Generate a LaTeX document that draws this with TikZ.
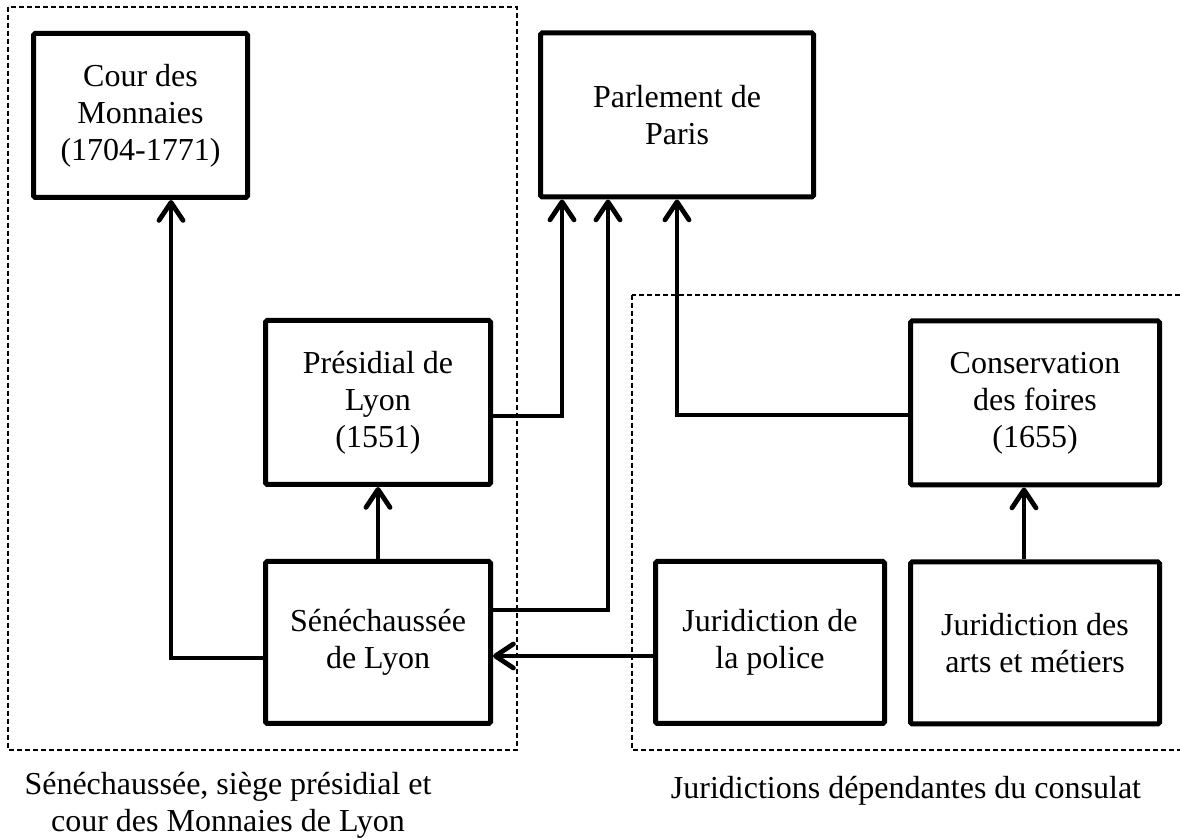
\documentclass[tikz,border=0pt]{standalone}
\usepackage{fontspec}
\setmainfont{Liberation Serif}
\usepackage{tikz}
\usetikzlibrary{arrows.meta,calc}

\tikzset{
    instance/.style={draw, line width=2.5pt, rounded corners=0.8pt, align=center, inner sep=0pt, font=\fontsize{16}{18.5}\selectfont},
    arr/.style={line width=2.4pt, -{Straight Barb[length=9pt,width=12pt,line width=2.4pt,round]}},
    group/.style={dash pattern=on 2.5pt off 1.5pt, line width=0.7pt},
    caption/.style={align=center, font=\fontsize{16}{18.5}\selectfont}
}

\begin{document}
\begin{tikzpicture}[x=0.5pt, y=-0.5pt]
    \useasboundingbox (0,0) rectangle (1180,838);

    % groupes
    \draw[group] (8,7) rectangle (517,750);
    \draw[group] (632,295) rectangle (1195,750);

    \node[instance, minimum width=107pt, minimum height=82pt] at (140.5,115.5) (cour) {Cour des\\Monnaies\\(1704-1771)};
    \node[instance, minimum width=136.5pt, minimum height=82pt] at (677,115) (parlement) {Parlement de\\Paris};
    \node[instance, minimum width=112.5pt, minimum height=82pt] at (378,402.5) (presidial) {Présidial de\\Lyon\\(1551)};
    \node[instance, minimum width=124.5pt, minimum height=82pt] at (1035,403) (conservation) {Conservation\\des foires\\(1655)};
    \node[instance, minimum width=112.5pt, minimum height=81pt] at (378,642.5) (senechaussee) {Sénéchaussée\\de Lyon};
    \node[instance, minimum width=114.5pt, minimum height=81pt] at (770,642.5) (police) {Juridiction de\\la police};
    \node[instance, minimum width=124.5pt, minimum height=81pt] at (1035,643) (arts) {Juridiction des\\arts et métiers};

    \draw[arr] ([yshift=-7.75pt]senechaussee.west) -| ([xshift=15.25pt]cour.south);
    \draw[arr] (senechaussee.north) -- (presidial.south);
    \draw[arr] ([yshift=-6.75pt]presidial.east) -| ([xshift=-57.5pt]parlement.south);
    \draw[arr] ([yshift=16.25pt]senechaussee.east) -| ([xshift=-34.5pt]parlement.south);
    \draw[arr] ([yshift=-6pt]conservation.west) -| (parlement.south);
    \draw[arr] ([xshift=-5.5pt]arts.north) -- ([xshift=-5.5pt]conservation.south);
    \draw[arr] ([yshift=-6.75pt]police.west) -- ([yshift=-6.75pt]senechaussee.east);

    \node[caption] at (228,805) (capleft) {Sénéchaussée, siège présidial et\\cour des Monnaies de Lyon};
    \node[caption] at (906,791) (capright) {Juridictions dépendantes du consulat};
\end{tikzpicture}
\end{document}
